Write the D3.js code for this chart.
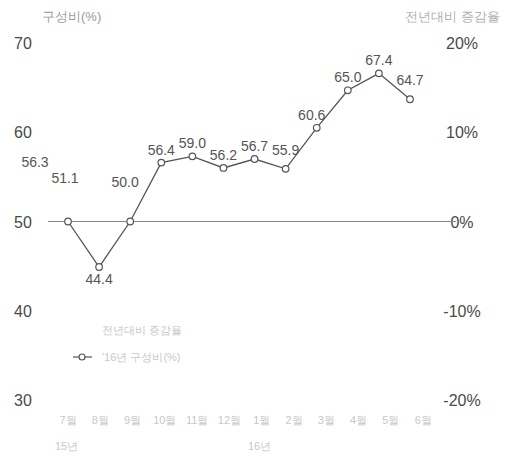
<!DOCTYPE html>
<html>
<head>
<meta charset="utf-8">
<script src="https://cdn.jsdelivr.net/npm/d3@7"></script>
<style>
    body { margin: 0; background: #fff; }
    text { font-family: "Liberation Sans", Arial, sans-serif; }
</style>
</head>
<body>
<script>
    var w = 518;
    var h = 459;

    // categories (15년 7월 ~ 16년 6월)
    var months = ["7월", "8월", "9월", "10월", "11월", "12월", "1월", "2월", "3월", "4월", "5월", "6월"];
    // plotted positions of the line (left axis units)
    var values = [50.0, 44.9, 50.0, 56.6, 57.3, 56.0, 57.0, 55.9, 60.5, 64.7, 66.6, 63.7];
    // printed data labels
    var labels = ["51.1", "44.4", "50.0", "56.4", "59.0", "56.2", "56.7", "55.9", "60.6", "65.0", "67.4", "64.7"];
    var leftTicks = [30, 40, 50, 60, 70];
    var rightTicks = [-20, -10, 0, 10, 20];

    var svg = d3.select("body").append("svg")
        .attr("width", w)
        .attr("height", h);

    var x = d3.scalePoint().domain(months).range([68, 410]);
    var y = d3.scaleLinear().domain([30, 70]).range([400, 43]);
    var y2 = d3.scaleLinear().domain([-20, 20]).range([400, 43]);

    // axis titles
    svg.append("text").attr("x", 42).attr("y", 21)
        .attr("font-size", "13px").attr("fill", "#999")
        .text("구성비(%)");
    svg.append("text").attr("x", 405).attr("y", 21)
        .attr("font-size", "13px").attr("fill", "#b0b0b0")
        .text("전년대비 증감율");

    // left ticks
    svg.selectAll(".lt").data(leftTicks).enter().append("text")
        .attr("class", "lt")
        .attr("x", 14)
        .attr("y", function(d) { return y(d) + 6; })
        .attr("font-size", "16px").attr("fill", "#4a4a4a")
        .text(function(d) { return d; });

    // right ticks
    svg.selectAll(".rt").data(rightTicks).enter().append("text")
        .attr("class", "rt")
        .attr("x", 462)
        .attr("y", function(d) { return y2(d) + 6; })
        .attr("text-anchor", "middle")
        .attr("font-size", "16px").attr("fill", "#4a4a4a")
        .text(function(d) { return d + "%"; });

    // zero line
    svg.append("line")
        .attr("x1", 48).attr("x2", 456)
        .attr("y1", y2(0)).attr("y2", y2(0))
        .attr("stroke", "#888").attr("stroke-width", 1);

    // x labels
    svg.selectAll(".xl").data(months).enter().append("text")
        .attr("class", "xl")
        .attr("x", function(d, i) { return x(d) + i * 1.2; })
        .attr("y", 424)
        .attr("text-anchor", "middle")
        .attr("font-size", "11px").attr("fill", "#c8c8c8")
        .text(function(d) { return d; });
    svg.append("text").attr("x", 55).attr("y", 450)
        .attr("font-size", "11px").attr("fill", "#c8c8c8").text("15년");
    svg.append("text").attr("x", 248).attr("y", 450)
        .attr("font-size", "11px").attr("fill", "#c8c8c8").text("16년");

    // line
    var line = d3.line()
        .x(function(d, i) { return x(months[i]); })
        .y(function(d) { return y(d); });

    svg.append("path")
        .datum(values)
        .attr("d", line)
        .attr("fill", "none")
        .attr("stroke", "#555")
        .attr("stroke-width", 1.3);

    svg.selectAll("circle").data(values).enter().append("circle")
        .attr("cx", function(d, i) { return x(months[i]); })
        .attr("cy", function(d) { return y(d); })
        .attr("r", 3.3)
        .attr("fill", "#fff")
        .attr("stroke", "#555")
        .attr("stroke-width", 1.2);

    // data labels, nudged like in the original
    var dyFor = function(i) {
        if (i == 0) return -39;
        if (i == 1) return 17;
        if (i == 2) return -35;
        if (i == 7 || i == 11) return -14;
        return -8;
    };
    var dxFor = function(i) {
        if (i == 0) return -3;
        if (i == 2) return -5;
        if (i == 8) return -5;
        return 0;
    };
    svg.selectAll(".dl").data(labels).enter().append("text")
        .attr("class", "dl")
        .attr("x", function(d, i) { return x(months[i]) + dxFor(i); })
        .attr("y", function(d, i) { return y(values[i]) + dyFor(i); })
        .attr("text-anchor", "middle")
        .attr("font-size", "14px").attr("fill", "#555")
        .text(function(d) { return d; });
    // stray label at left
    svg.append("text").attr("x", 35).attr("y", 167)
        .attr("text-anchor", "middle")
        .attr("font-size", "14px").attr("fill", "#555")
        .text("56.3");

    // legend
    svg.append("text").attr("x", 102).attr("y", 334)
        .attr("font-size", "11px").attr("fill", "#c8c8c8")
        .text("전년대비 증감율");
    svg.append("line").attr("x1", 73).attr("x2", 92)
        .attr("y1", 357).attr("y2", 357)
        .attr("stroke", "#555").attr("stroke-width", 1.2);
    svg.append("circle").attr("cx", 82).attr("cy", 357).attr("r", 3)
        .attr("fill", "#fff").attr("stroke", "#555").attr("stroke-width", 1.2);
    svg.append("text").attr("x", 102).attr("y", 361)
        .attr("font-size", "11px").attr("fill", "#c8c8c8")
        .text("'16년 구성비(%)");
</script>
</body>
</html>
